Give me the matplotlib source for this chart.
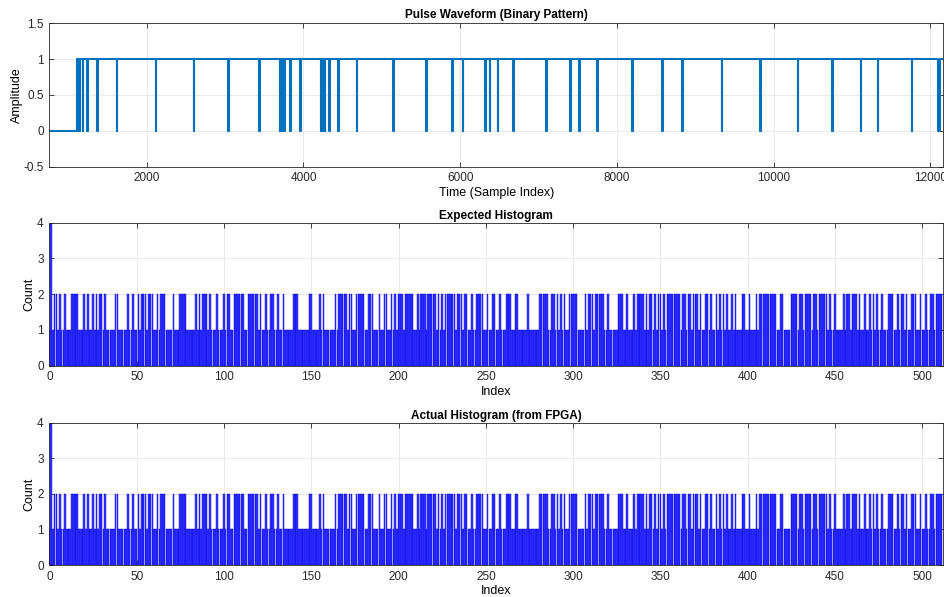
import matplotlib
matplotlib.use("Agg")
import matplotlib.pyplot as plt
import numpy as np

# pulse waveform: signal is low until RISE, then high with short dips to 0
X_START, X_END = 757, 12166
RISE = 1107
DIPS = [1130, 1150, 1185, 1242, 1370, 1621, 2119, 2600, 3046, 3442,
        3701, 3720, 3736, 3761, 3833, 3960, 4225, 4245, 4276, 4330,
        4450, 4684, 5152, 5568, 5900, 6037, 6321, 6381, 6483, 6683,
        7104, 7411, 7521, 7750, 8197, 8580, 8835, 9342, 9835, 10312,
        10750, 11116, 11333, 11767, 12113]
DIP_WIDTHS = [6] * (len(DIPS) - 1) + [22]

# histogram (512 bins): count 1 everywhere except the bins below
N_BINS = 512
PEAK_BIN, PEAK_COUNT = 1, 4
TWO_BINS = [
    3, 4, 6, 9, 13, 14, 15, 16, 20, 22, 25, 27, 29, 30, 32, 38, 39, 45, 48,
    51, 53, 54, 55, 57, 58, 59, 62, 64, 65, 66, 71, 75, 76, 77, 78, 84, 86,
    88, 89, 90, 92, 96, 100, 102, 103, 106, 107, 108, 109, 110, 111, 114,
    115, 116, 117, 118, 119, 121, 124, 127, 128, 131, 134, 140, 141, 142,
    149, 150, 155, 157, 164, 166, 167, 168, 169, 170,
    172, 173, 176, 177, 178, 179, 180, 183, 184, 185, 189, 192, 193, 196,
    198, 200, 201, 202, 204, 205, 206, 207, 208, 211, 213, 214, 215, 217,
    218, 219, 220, 221, 223, 225, 227, 228, 229, 230, 231, 232, 234, 235,
    236, 238, 239, 242, 245, 246, 247, 248, 251, 254, 255, 258, 262, 263,
    264, 267, 268, 274, 281, 282, 283, 284, 285, 288, 289, 291, 293, 295,
    298, 299, 300, 301, 302, 307, 309, 310, 311, 313, 314, 315, 316, 317,
    320, 326, 327, 328, 331, 335, 337, 338, 339, 340,
    342, 344, 345, 347, 349, 350, 352, 354, 355, 356, 357, 358, 359, 360,
    361, 363, 364, 366, 367, 369, 370, 371, 373, 376, 377, 379, 382, 384,
    386, 388, 391, 393, 397, 398, 401, 405, 407, 408, 409, 410, 411, 412,
    413, 414, 415, 416, 419, 420, 425, 426, 427, 428, 430, 431, 433, 434,
    435, 436, 438, 439, 441, 442, 443, 444, 445, 447, 450, 455, 457, 458,
    460, 461, 462, 464, 467, 470, 472, 474, 477, 481, 482, 483, 486, 488,
    489, 491, 494, 495, 496, 499, 502, 505, 506, 508, 509, 510, 511,
]

WAVE_COLOR = "#0072bd"
BAR_FACE = "#3636ff"
BAR_EDGE = "#0000ee"
AX_COLOR = "#262626"

plt.rcParams["font.family"] = ["Liberation Sans", "DejaVu Sans"]
plt.rcParams["font.size"] = 8


def waveform():
    xs = [X_START, RISE, RISE]
    ys = [0, 0, 1]
    for d, w in zip(DIPS, DIP_WIDTHS):
        xs += [d - w / 2, d - w / 2, d + w / 2, d + w / 2]
        ys += [1, 0, 0, 1]
    xs.append(X_END)
    ys.append(1)
    return np.array(xs), np.array(ys)


def histogram():
    counts = np.ones(N_BINS)
    counts[TWO_BINS] = 2
    counts[PEAK_BIN] = PEAK_COUNT
    return np.arange(N_BINS), counts


def style(ax):
    ax.grid(True, color="#e6e6e6", linewidth=0.6)
    ax.set_axisbelow(True)
    for s in ax.spines.values():
        s.set_color(AX_COLOR)
        s.set_linewidth(0.6)
    ax.tick_params(direction="in", length=3.5, width=0.6, colors=AX_COLOR,
                   top=True, right=True, labelsize=8.5, pad=4)


fig = plt.figure(figsize=(9.45, 5.97), dpi=100)
L, W = 0.0522, 0.946
ax1 = fig.add_axes([L, 0.7208, W, 0.2402])
ax2 = fig.add_axes([L, 0.3875, W, 0.2395])
ax3 = fig.add_axes([L, 0.0536, W, 0.2384])

xw, yw = waveform()
ax1.plot(xw, yw, color=WAVE_COLOR, linewidth=1.5)
ax1.set_xlim(X_START, X_END)
ax1.set_ylim(-0.5, 1.5)
ax1.set_xticks(range(2000, 12001, 2000))
ax1.set_yticks([-0.5, 0, 0.5, 1, 1.5])
ax1.set_yticklabels(["-0.5", "0", "0.5", "1", "1.5"])
ax1.set_title("Pulse Waveform (Binary Pattern)", fontsize=8.5,
              fontweight="bold", pad=4)
ax1.set_xlabel("Time (Sample Index)", fontsize=9, labelpad=2)
ax1.set_ylabel("Amplitude", fontsize=9)
ax1.yaxis.set_label_coords(-0.0294, 0.5)
style(ax1)

idx, counts = histogram()
for ax, title in [(ax2, "Expected Histogram"),
                  (ax3, "Actual Histogram (from FPGA)")]:
    ax.bar(idx, counts, width=0.9, color=BAR_FACE, edgecolor=BAR_EDGE,
           linewidth=0.3)
    ax.set_xlim(0, N_BINS)
    ax.set_ylim(0, 4)
    ax.set_xticks(range(0, 501, 50))
    ax.set_yticks(range(0, 5))
    ax.set_title(title, fontsize=8.5, fontweight="bold", pad=3)
    ax.set_xlabel("Index", fontsize=9, labelpad=2)
    ax.set_ylabel("Count", fontsize=9)
    ax.yaxis.set_label_coords(-0.016, 0.5)
    style(ax)

fig.savefig("out.png", dpi=100)
